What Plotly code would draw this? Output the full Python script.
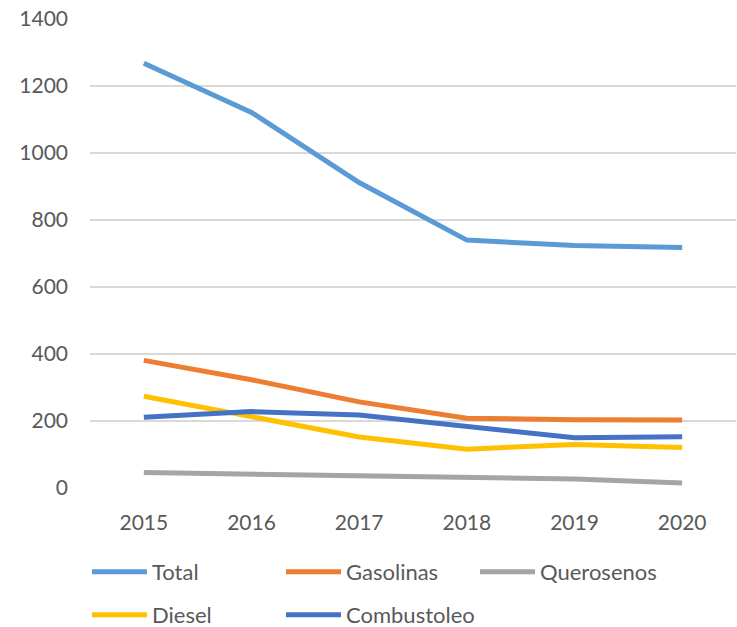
import plotly.graph_objects as go

years = ["2015", "2016", "2017", "2018", "2019", "2020"]
total = [1268, 1121, 912, 740, 724, 718]
gasolinas = [381, 323, 257, 208, 204, 203]
querosenos = [46, 41, 37, 32, 27, 15]
diesel = [274, 213, 152, 116, 130, 121]
combustoleo = [211, 228, 218, 184, 150, 153]

series = [
    ("Total", total, "#5B9BD5", "legend"),
    ("Gasolinas", gasolinas, "#ED7D31", "legend"),
    ("Querosenos", querosenos, "#A5A5A5", "legend"),
    ("Diesel", diesel, "#FFC000", "legend2"),
    ("Combustoleo", combustoleo, "#4472C4", "legend2"),
]

FONT = "Lato"
TEXT = "#595959"
fig = go.Figure()
for name, vals, color, lg in series:
    fig.add_trace(go.Scatter(
        x=years, y=vals, name=name, mode="lines",
        line=dict(color=color, width=5), legend=lg,
    ))

legend_common = dict(
    orientation="h", xref="container", yref="container",
    xanchor="left", yanchor="middle",
    font=dict(family=FONT, size=22, color=TEXT),
    itemwidth=55, entrywidth=124, entrywidthmode="pixels",
    bgcolor="rgba(0,0,0,0)", itemclick=False, itemdoubleclick=False,
)

fig.update_layout(
    width=737, height=627,
    margin=dict(l=90, r=1, t=19, b=139, autoexpand=False),
    paper_bgcolor="white", plot_bgcolor="white",
    font=dict(family=FONT, size=21, color=TEXT),
    showlegend=True,
    legend=dict(x=87 / 737, y=1 - 572 / 627, **legend_common),
    legend2=dict(x=87 / 737, y=1 - 615 / 627, **legend_common),
    xaxis=dict(
        type="category", range=[-0.5, 5.5], showgrid=False, zeroline=False,
        showline=False, ticks="", ticklabelstandoff=20,
        tickfont=dict(family=FONT, size=21, color=TEXT),
    ),
    yaxis=dict(
        range=[0, 1400], tickvals=[0, 200, 400, 600, 800, 1000, 1200, 1400],
        showgrid=True, gridcolor="#D9D9D9", gridwidth=1.5,
        zeroline=False, showline=False, ticks="", ticklabelstandoff=21,
        tickfont=dict(family=FONT, size=21, color=TEXT),
    ),
)

fig.write_html(
    "out.html",
    config={"displayModeBar": False},
    post_script="document.body.style.margin='0';",
)
